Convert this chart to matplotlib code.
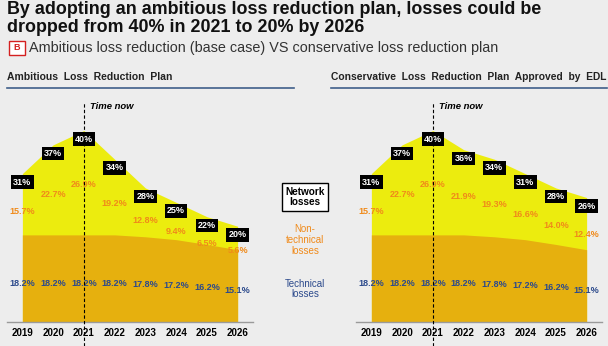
import numpy as np
import matplotlib.pyplot as plt
from matplotlib.patches import Rectangle

plt.rcParams['font.family'] = ['Liberation Sans', 'DejaVu Sans']

years = [2019, 2020, 2021, 2022, 2023, 2024, 2025, 2026]

# Ambitious plan (base case)
amb_total = [31, 37, 40, 34, 28, 25, 22, 20]
amb_nontech = [15.7, 22.7, 26.9, 19.2, 12.8, 9.4, 6.5, 5.6]
amb_tech = [18.2, 18.2, 18.2, 18.2, 17.8, 17.2, 16.2, 15.1]

# Conservative plan approved by EDL
con_total = [31, 37, 40, 36, 34, 31, 28, 26]
con_nontech = [15.7, 22.7, 26.9, 21.9, 19.3, 16.6, 14.0, 12.4]
con_tech = [18.2, 18.2, 18.2, 18.2, 17.8, 17.2, 16.2, 15.1]

time_now = 2021

BG = '#ededed'
YELLOW = '#ecec0e'
GOLD = '#e6b00e'
ORANGE = '#f08a1a'
BLUE = '#2c4a8c'


def draw_panel(ax, total, nontech, tech):
    ax.set_facecolor(BG)
    ax.fill_between(years, 0, total, color=YELLOW, lw=0)
    ax.fill_between(years, 0, tech, color=GOLD, lw=0)
    for x, t, n, k in zip(years, total, nontech, tech):
        ax.text(x, t - 1.8, f'{t}%', color='white', fontsize=6.5, fontweight='bold',
                ha='center', va='center',
                bbox=dict(boxstyle='square,pad=0.25', fc='black', ec='none'))
        ax.text(x, k + 0.5 * n - 3, f'{n:.1f}%', color=ORANGE, fontsize=6.5,
                fontweight='bold', ha='center', va='center')
        ax.text(x, k * 0.44, f'{k:.1f}%', color=BLUE, fontsize=6.5,
                fontweight='bold', ha='center', va='center')
    ax.plot([time_now, time_now], [-5, 46], color='black', lw=0.8,
            ls=(0, (3, 2)), clip_on=False, zorder=5)
    ax.text(time_now + 0.2, 45, 'Time now', fontsize=6.8, fontweight='bold',
            fontstyle='italic', ha='left', va='center')
    ax.set_xlim(2018.5, 2026.5)
    ax.set_ylim(0, 47)
    ax.set_yticks([])
    ax.set_xticks(years)
    ax.set_xticklabels([str(y) for y in years], fontsize=7, fontweight='bold')
    ax.tick_params(axis='x', length=0, pad=4)
    for s in ['top', 'right', 'left']:
        ax.spines[s].set_visible(False)
    ax.spines['bottom'].set_color('#9a9a9a')
    ax.spines['bottom'].set_linewidth(1)


fig = plt.figure(figsize=(6.08, 3.46), dpi=100)
fig.patch.set_facecolor(BG)

ax1 = fig.add_axes([7 / 608, 24 / 346, 246 / 608, 225 / 346])
ax2 = fig.add_axes([356 / 608, 24 / 346, 246 / 608, 225 / 346])
draw_panel(ax1, amb_total, amb_nontech, amb_tech)
draw_panel(ax2, con_total, con_nontech, con_tech)

# titles
fig.text(7 / 608, 1 - 9 / 346, 'By adopting an ambitious loss reduction plan, losses could be',
         fontsize=12.9, fontweight='bold', color='#111111', va='center', ha='left')
fig.text(7 / 608, 1 - 28 / 346, 'dropped from 40% in 2021 to 20% by 2026',
         fontsize=12.9, fontweight='bold', color='#111111', va='center', ha='left')
fig.patches.append(Rectangle((9 / 608, 1 - 55 / 346), 16 / 608, 14 / 346,
                             transform=fig.transFigure, fc='white', ec='#d42020', lw=1))
fig.text(17 / 608, 1 - 48 / 346, 'B', fontsize=6.5, fontweight='bold', color='#d42020',
         ha='center', va='center')
fig.text(29 / 608, 1 - 48 / 346,
         'Ambitious loss reduction (base case) VS conservative loss reduction plan',
         fontsize=10.4, color='#333333', ha='left', va='center')

fig.text(7 / 608, 1 - 77 / 346, 'Ambitious  Loss  Reduction  Plan', fontsize=7.5,
         fontweight='bold', color='#222222', ha='left', va='center')
fig.text(331 / 608, 1 - 77 / 346, 'Conservative  Loss  Reduction  Plan  Approved  by  EDL',
         fontsize=7.4, fontweight='bold', color='#222222', ha='left', va='center')
fig.add_artist(plt.Line2D([7 / 608, 294 / 608], [1 - 88 / 346] * 2, color='#3f5f8a', lw=1.2))
fig.add_artist(plt.Line2D([331 / 608, 607 / 608], [1 - 88 / 346] * 2, color='#3f5f8a', lw=1.2))

# middle legend
fig.text(305 / 608, 1 - 197 / 346, 'Network\nlosses', fontsize=7.2, fontweight='bold',
         ha='center', va='center', linespacing=1.1,
         bbox=dict(boxstyle='square,pad=0.35', fc='white', ec='black', lw=1))
fig.text(305 / 608, 1 - 240 / 346, 'Non-\ntechnical\nlosses', fontsize=7, color=ORANGE,
         ha='center', va='center', linespacing=1.1)
fig.text(305 / 608, 1 - 289 / 346, 'Technical\nlosses', fontsize=7, color=BLUE,
         ha='center', va='center', linespacing=1.1)

fig.savefig('out.png', dpi=100, facecolor=BG)
